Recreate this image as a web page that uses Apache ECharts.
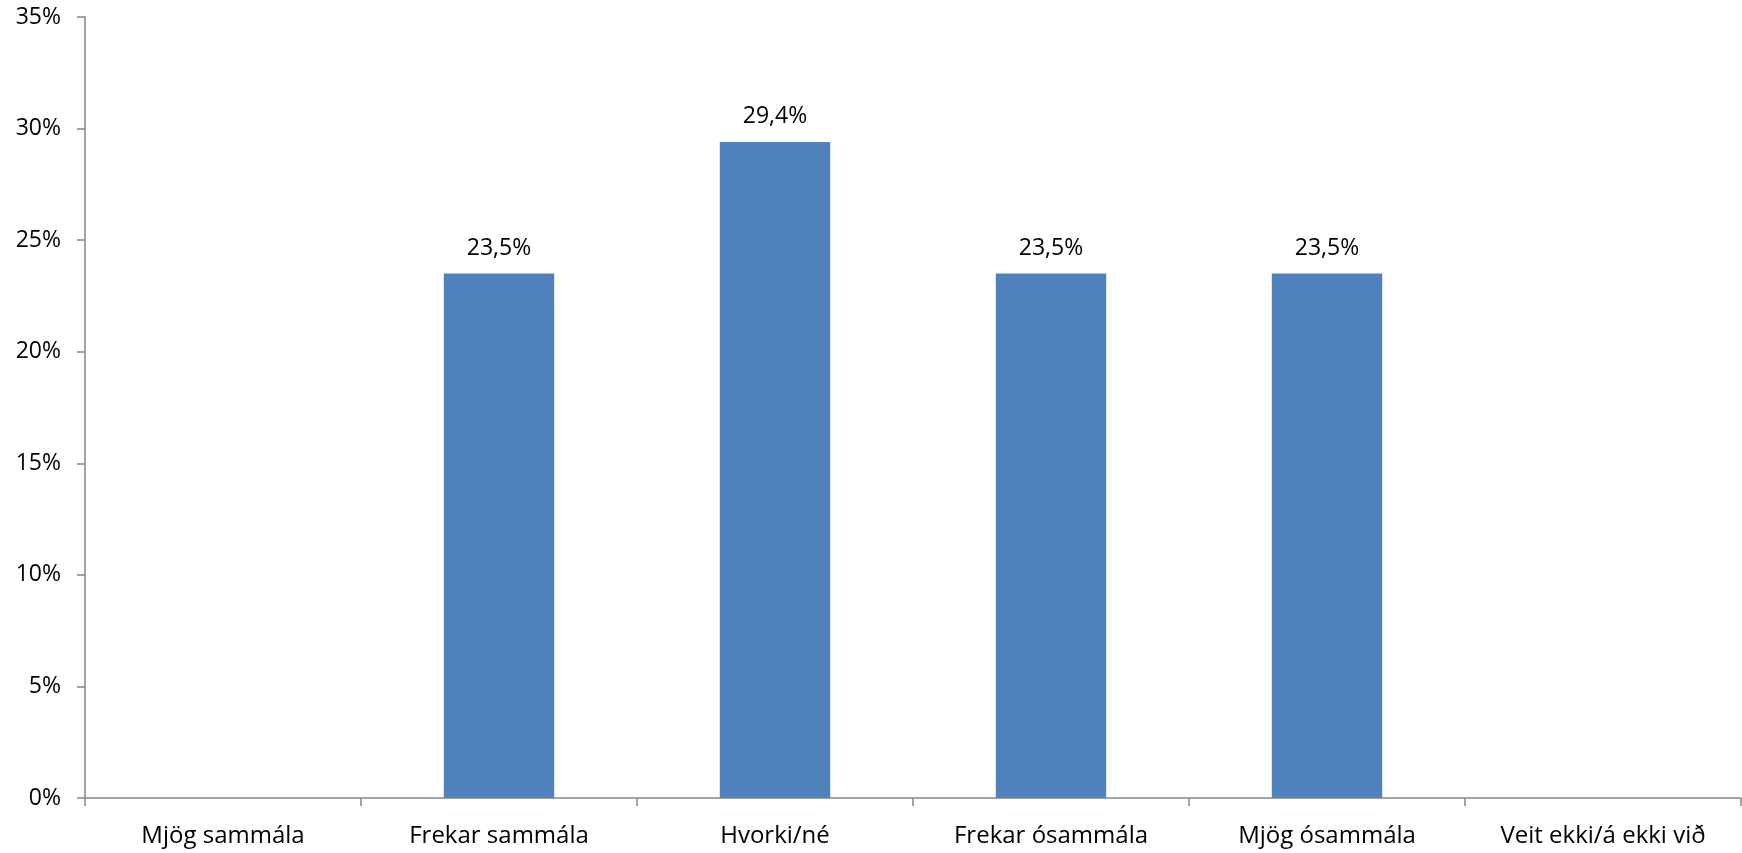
<!DOCTYPE html>
<html><head><meta charset="utf-8">
<script src="https://cdn.jsdelivr.net/npm/echarts@6/dist/echarts.min.js"></script>
<style>html,body{margin:0;padding:0;background:#fff}#c{width:1742px;height:853px}</style>
</head><body><div id="c"></div>
<script>
const categories = ['Mjög sammála', 'Frekar sammála', 'Hvorki/né', 'Frekar ósammála', 'Mjög ósammála', 'Veit ekki/á ekki við'];
const values = [0, 23.5, 29.4, 23.5, 23.5, 0];
const yTicks = [0, 5, 10, 15, 20, 25, 30, 35];

const font = 'Open Sans, Liberation Sans, sans-serif';
const chart = echarts.init(document.getElementById('c'));
chart.setOption({
  animation: false,
  grid: { left: 85, right: 1, top: 17, bottom: 55, containLabel: false },
  xAxis: {
    type: 'category', data: categories,
    axisLine: { lineStyle: { color: '#868686', width: 1.5 } },
    axisTick: { show: true, alignWithLabel: false, length: 8, lineStyle: { color: '#868686', width: 1.5 } },
    axisLabel: { color: '#000', fontSize: 24, fontFamily: font, margin: 26 }
  },
  yAxis: {
    type: 'value', min: 0, max: 35, interval: 5,
    axisLine: { show: true, lineStyle: { color: '#868686', width: 1.5 } },
    axisTick: { show: true, length: 8, lineStyle: { color: '#868686', width: 1.5 } },
    splitLine: { show: false },
    axisLabel: { color: '#000', fontSize: 23, fontFamily: font, margin: 24,
      formatter: v => yTicks.includes(v) ? v + '%' : '' }
  },
  series: [{
    type: 'bar', data: values, barWidth: '40%',
    itemStyle: { color: '#4F81BD' },
    label: { show: true, position: 'top', distance: 14, color: '#000', fontSize: 23, fontFamily: font,
      formatter: p => p.value > 0 ? p.value.toFixed(1).replace('.', ',') + '%' : '' }
  }]
});
</script></body></html>
